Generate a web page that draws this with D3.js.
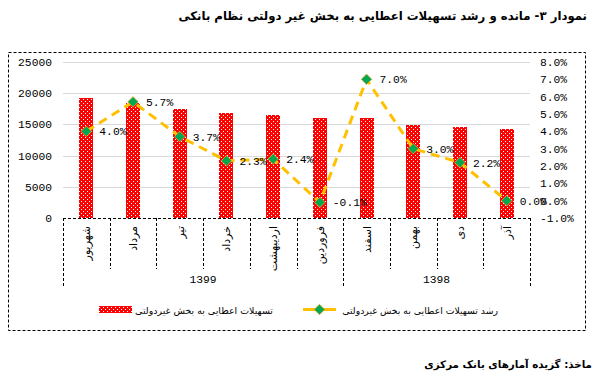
<!DOCTYPE html>
<html>
<head>
<meta charset="utf-8">
<script src="https://cdn.jsdelivr.net/npm/d3@7"></script>
<style>
  body { margin: 0; background: #fff; }
  svg { display: block; }
  .fa { font-family: "DejaVu Sans", "Noto Sans", sans-serif; }
  .num { font-family: "Liberation Mono", "DejaVu Sans Mono", monospace; font-size: 11.3px; fill: #000; }
</style>
</head>
<body>
<svg id="chart" width="595" height="385"></svg>
<script>
// months, left to right as drawn (RTL order, newest first)
const months = ['شهریور', 'مرداد', 'تیر', 'خرداد', 'اردیبهشت', 'فروردین', 'اسفند', 'بهمن', 'دی', 'آذر'];
const years = [{ label: '1399', from: 0, to: 5 }, { label: '1398', from: 6, to: 9 }];
// balance of credit to non-government sector (bars)
const balance = [19200, 18500, 17500, 16900, 16500, 16050, 16050, 14900, 14600, 14250];
// growth % (line)
const growth = [4.0, 5.7, 3.7, 2.3, 2.4, -0.1, 7.0, 3.0, 2.2, 0.0];
const leftTicks = [0, 5000, 10000, 15000, 20000, 25000];
const rightTicks = [-1, 0, 1, 2, 3, 4, 5, 6, 7, 8];

const title = 'نمودار ۳- مانده و رشد تسهیلات اعطایی به بخش غیر دولتی نظام بانکی';
const source = 'ماخذ: گزیده آمارهای بانک مرکزی';
const barName = 'تسهیلات اعطایی به بخش غیردولتی';
const lineName = 'رشد تسهیلات اعطایی به بخش غیردولتی';

const svg = d3.select('#chart');
const P = { l: 63, r: 530, t: 62, b: 218 };

// dotted red fill
const defs = svg.append('defs');
const pat = defs.append('pattern').attr('id', 'dots').attr('patternUnits', 'userSpaceOnUse')
  .attr('width', 4).attr('height', 4).attr('shape-rendering', 'crispEdges');
pat.append('rect').attr('width', 4).attr('height', 4).attr('fill', '#ff0000');
pat.append('rect').attr('x', 1).attr('y', 1).attr('width', 1).attr('height', 1).attr('fill', '#fff');
pat.append('rect').attr('x', 3).attr('y', 3).attr('width', 1).attr('height', 1).attr('fill', '#fff');

// fit a text to a target width by scaling font size
function fit(sel, w) {
  const len = sel.node().getComputedTextLength();
  const fs = parseFloat(sel.style('font-size'));
  if (len) sel.style('font-size', (fs * w / len) + 'px');
}

const t = svg.append('text').attr('class', 'fa').attr('x', 587).attr('y', 20)
  .attr('text-anchor', 'end').style('font-size', '14px').style('font-weight', 'bold').text(title);
fit(t, 409);

// outer dashed frame
svg.append('rect').attr('x', 8.5).attr('y', 52.5).attr('width', 577).attr('height', 278)
  .attr('fill', 'none').attr('stroke', '#000').attr('stroke-dasharray', '3,2');

const x = d3.scaleBand().domain(d3.range(months.length)).range([P.l, P.r]);
const yL = d3.scaleLinear().domain([0, 25000]).range([P.b, P.t]);
const yR = d3.scaleLinear().domain([-1, 8]).range([P.b, P.t]);

// gridlines
svg.append('g').selectAll('line').data(leftTicks.filter(d => d > 0)).join('line')
  .attr('x1', P.l).attr('x2', P.r).attr('y1', d => Math.round(yL(d)) + 0.5).attr('y2', d => Math.round(yL(d)) + 0.5)
  .attr('stroke', '#d9d9d9');

// axis tick labels
svg.append('g').selectAll('text').data(leftTicks).join('text').attr('class', 'num')
  .attr('x', 52).attr('y', d => yL(d) + 4).attr('text-anchor', 'end').text(d => d);
svg.append('g').selectAll('text').data(rightTicks).join('text').attr('class', 'num')
  .attr('x', 540).attr('y', d => yR(d) + 4).text(d => d.toFixed(1) + '%');

// bars
const bw = 14;
svg.append('g').attr('shape-rendering', 'crispEdges').selectAll('rect').data(balance).join('rect')
  .attr('x', (d, i) => Math.round(x(i) + x.bandwidth() / 2 - bw / 2)).attr('width', bw)
  .attr('y', d => Math.round(yL(d))).attr('height', d => Math.round(yL(0)) - Math.round(yL(d)))
  .attr('fill', 'url(#dots)');

// category axis (dashed)
const ax = svg.append('g').attr('stroke', '#000').attr('stroke-dasharray', '3,2');
ax.append('line').attr('x1', P.l).attr('x2', P.r).attr('y1', P.b + 0.5).attr('y2', P.b + 0.5);
d3.range(months.length + 1).forEach(i => {
  const xx = i < months.length ? x(i) : P.r;
  const isGroup = i === 0 || i === months.length || years.some(g => g.from === i);
  ax.append('line').attr('x1', Math.round(xx) + 0.5).attr('x2', Math.round(xx) + 0.5)
    .attr('y1', P.b).attr('y2', isGroup ? 288 : 269);
});

// month labels (rotated)
svg.append('g').selectAll('text').data(months).join('text').attr('class', 'fa')
  .style('font-size', '11px')
  .attr('transform', (d, i) => `translate(${x(i) + x.bandwidth() / 2 + 4},226) rotate(-90)`)
  .attr('text-anchor', 'end').text(d => d);

// year labels
svg.append('g').selectAll('text').data(years).join('text').attr('class', 'num')
  .attr('x', g => (x(g.from) + x(g.to) + x.bandwidth()) / 2).attr('y', 283)
  .attr('text-anchor', 'middle').text(g => g.label);

// growth line
const cx = i => x(i) + x.bandwidth() / 2;
svg.append('path').datum(growth)
  .attr('d', d3.line().x((d, i) => cx(i)).y(d => yR(d)))
  .attr('fill', 'none').attr('stroke', '#ffc000').attr('stroke-width', 3)
  .attr('stroke-dasharray', '9,6');

const diamond = d3.symbol().type(d3.symbolDiamond2).size(70);
svg.append('g').selectAll('path').data(growth).join('path')
  .attr('transform', (d, i) => `translate(${cx(i)},${yR(d)})`).attr('d', diamond)
  .attr('fill', '#00a84f').attr('stroke', '#f0a030').attr('stroke-width', 0.8);

svg.append('g').selectAll('text').data(growth).join('text').attr('class', 'num')
  .attr('x', (d, i) => cx(i) + 13).attr('y', d => yR(d) + 4).text(d => d.toFixed(1) + '%');

// legend
const lg = svg.append('g');
lg.append('rect').attr('x', 99).attr('y', 306).attr('width', 33).attr('height', 7)
  .attr('shape-rendering', 'crispEdges').attr('fill', 'url(#dots)');
const l1 = lg.append('text').attr('class', 'fa').attr('x', 273).attr('y', 314).attr('text-anchor', 'end')
  .style('font-size', '10px').text(barName);
fit(l1, 138);
lg.append('line').attr('x1', 303).attr('x2', 336).attr('y1', 309.5).attr('y2', 309.5)
  .attr('stroke', '#ffc000').attr('stroke-width', 3);
lg.append('path').attr('transform', 'translate(319.5,309.5)').attr('d', diamond)
  .attr('fill', '#00a84f').attr('stroke', '#f0a030').attr('stroke-width', 0.8);
const l2 = lg.append('text').attr('class', 'fa').attr('x', 498).attr('y', 314).attr('text-anchor', 'end')
  .style('font-size', '10px').text(lineName);
fit(l2, 156);

const s = svg.append('text').attr('class', 'fa').attr('x', 592).attr('y', 368).attr('text-anchor', 'end')
  .style('font-size', '13px').style('font-weight', 'bold').text(source);
fit(s, 168);
</script>
</body>
</html>
